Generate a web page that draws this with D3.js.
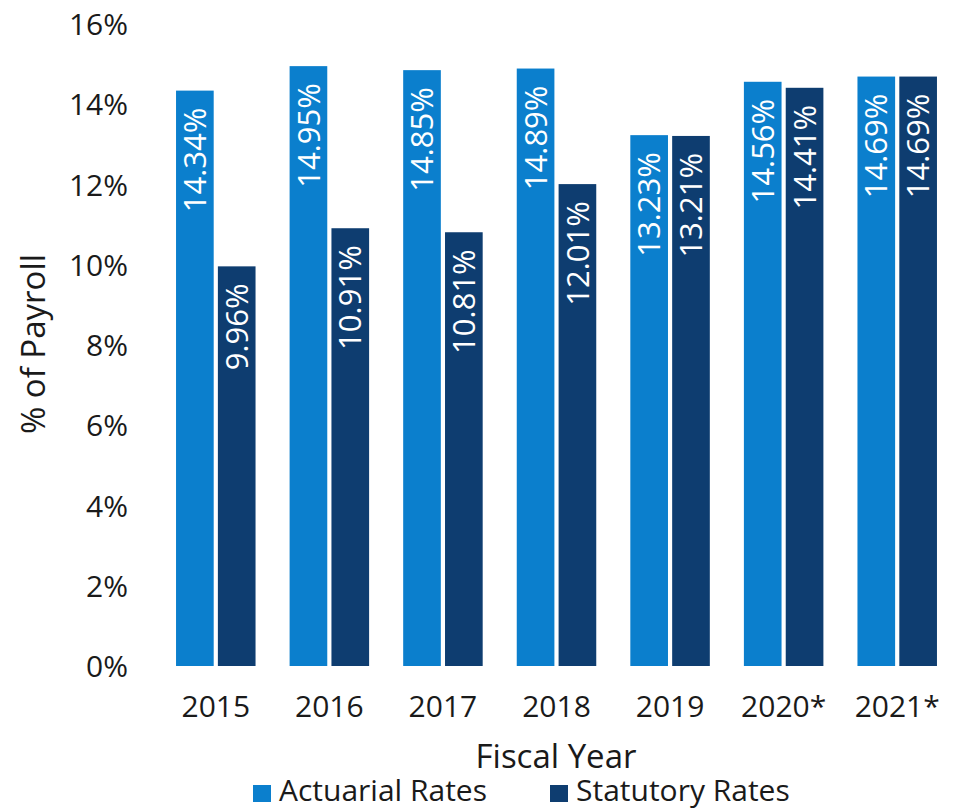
<!DOCTYPE html>
<html>
<head>
<meta charset="utf-8">
<script src="https://cdn.jsdelivr.net/npm/d3@7"></script>
<style>
  body { margin: 0; background: #fff; }
  svg text { font-family: "Open Sans", sans-serif; }
</style>
</head>
<body>
<div id="chart"></div>
<script>
// fiscal years and the two rate series (% of payroll)
const years = ['2015', '2016', '2017', '2018', '2019', '2020*', '2021*'];
const actuarial = [14.34, 14.95, 14.85, 14.89, 13.23, 14.56, 14.69];
const statutory = [9.96, 10.91, 10.81, 12.01, 13.21, 14.41, 14.69];
const yTicks = [0, 2, 4, 6, 8, 10, 12, 14, 16];
const seriesNames = ['Actuarial Rates', 'Statutory Rates'];

const width = 955, height = 809;
const colors = ['#0b7fcd', '#0e3d70'];

const svg = d3.select('#chart')
    .append('svg')
    .attr('width', width)
    .attr('height', height);

const y = d3.scaleLinear()
    .domain([0, 16])
    .range([666, 24]);

const x0 = d3.scaleBand()
    .domain(years)
    .range([159, 954])
    .paddingInner(0.3)
    .paddingOuter(0.15);

const x1 = d3.scaleBand()
    .domain([0, 1])
    .range([0, x0.bandwidth()])
    .paddingInner(0.1);

const data = years.map((yr, i) => ({year: yr, values: [actuarial[i], statutory[i]]}));

// y axis, labels only
const yAxis = d3.axisLeft(y)
    .tickValues(yTicks)
    .tickSize(0)
    .tickPadding(0)
    .tickFormat(d => d + '%');

svg.append('g')
    .attr('transform', 'translate(128,0)')
    .call(yAxis)
    .call(g => g.select('.domain').remove())
    .selectAll('text')
    .attr('font-size', '30px')
    .attr('fill', '#1a1a1a')
    .attr('dy', '0.35em');

// x axis labels
const xAxis = d3.axisBottom(x0)
    .tickSize(0)
    .tickPadding(0);

svg.append('g')
    .attr('transform', 'translate(0,694)')
    .call(xAxis)
    .call(g => g.select('.domain').remove())
    .selectAll('text')
    .attr('font-size', '30px')
    .attr('fill', '#1a1a1a')
    .attr('dy', '0.75em');

const groups = svg.selectAll('.year')
    .data(data)
    .enter()
    .append('g')
    .attr('class', 'year')
    .attr('transform', d => 'translate(' + x0(d.year) + ',0)');

const bars = groups.selectAll('.bar')
    .data(d => d.values.map((v, i) => ({v: v, i: i})))
    .enter()
    .append('g')
    .attr('class', 'bar');

bars.append('rect')
    .attr('x', d => x1(d.i))
    .attr('y', d => y(d.v))
    .attr('width', x1.bandwidth())
    .attr('height', d => y(0) - y(d.v))
    .attr('fill', d => colors[d.i]);

bars.append('text')
    .attr('transform', d => 'translate(' + (x1(d.i) + x1.bandwidth() / 2) + ',' + (y(d.v) + 17) + ') rotate(-90)')
    .attr('text-anchor', 'end')
    .attr('dy', '0.36em')
    .attr('font-size', '31px')
    .attr('fill', '#fff')
    .text(d => d.v.toFixed(2) + '%');

// axis titles
svg.append('text')
    .attr('transform', 'translate(33,344) rotate(-90)')
    .attr('text-anchor', 'middle')
    .attr('dy', '0.35em')
    .attr('font-size', '33px')
    .attr('fill', '#1a1a1a')
    .text('% of Payroll');

svg.append('text')
    .attr('x', 556)
    .attr('y', 768)
    .attr('text-anchor', 'middle')
    .attr('font-size', '33px')
    .attr('fill', '#1a1a1a')
    .text('Fiscal Year');

// legend
const legendX = [253, 550];
const legend = svg.selectAll('.legend')
    .data(seriesNames)
    .enter()
    .append('g')
    .attr('class', 'legend')
    .attr('transform', (d, i) => 'translate(' + legendX[i] + ',785)');

legend.append('rect')
    .attr('width', 18)
    .attr('height', 17)
    .attr('fill', (d, i) => colors[i]);

legend.append('text')
    .attr('x', 26)
    .attr('y', 16)
    .attr('font-size', '30px')
    .attr('fill', '#1a1a1a')
    .text(d => d);
</script>
</body>
</html>
